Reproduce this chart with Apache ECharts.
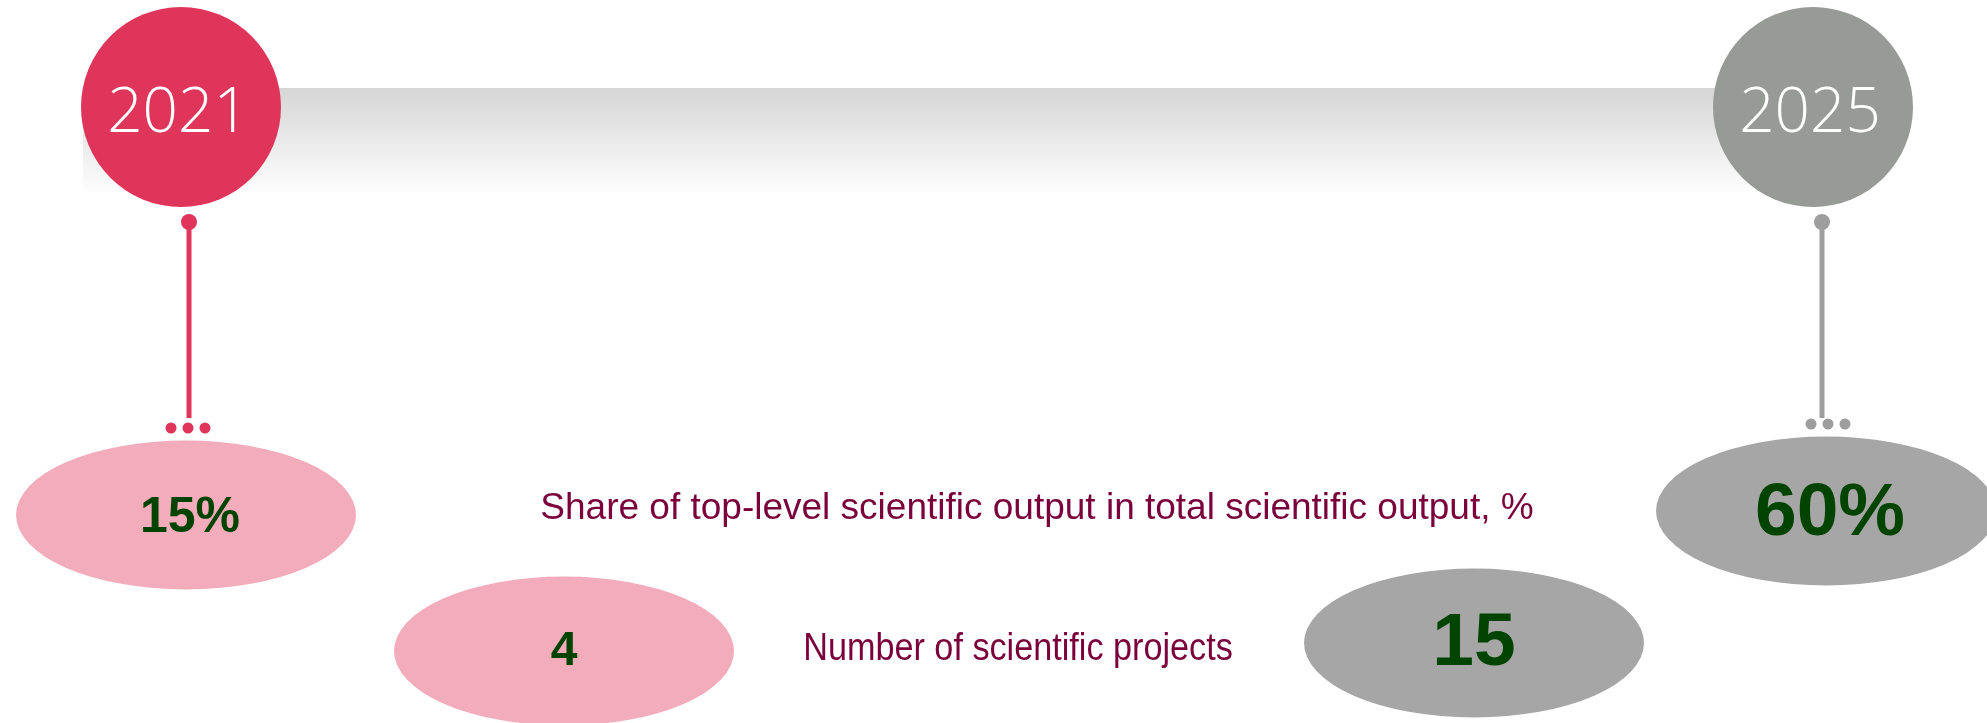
<!DOCTYPE html>
<html>
  <head>
    <meta charset="utf-8" />
    <title>Scientific output 2021 - 2025</title>
    <script src="https://cdn.jsdelivr.net/npm/echarts@6/dist/echarts.min.js"></script>
    <style>
      html, body { margin: 0; padding: 0; background: #fff; }
    </style>
  </head>
  <body>
    <div id="main" style="width: 1987px; height: 723px;"></div>
    <script type="text/javascript">
      // data
      const years = ["2021", "2025"];
      const shareLabel = "Share of top-level scientific output in total scientific output, %";
      const shareValues = [15, 60];
      const projectsLabel = "Number of scientific projects";
      const projectsValues = [4, 15];

      // layout (pixel space of the hidden axes)
      const W = 1987, H = 723;
      const yearPos = [[181, 107], [1813, 107]];
      const pinTop = [[189, 222], [1822, 222]];
      const pinBottom = [418, 418];
      const dotRow = [[188, 428], [1828, 424]];
      const sharePos = [[186, 515], [1826, 511]];
      const projectsPos = [[564, 651], [1474, 643]];
      const shareFont = [50, 75];
      const projectsFont = [48, 75];

      const yearColor = ["#E0355A", "#989A97"];
      const pinColor = ["#E0355A", "#9E9E9E"];
      const bubbleColor = ["#F2ACBB", "#A6A6A6"];
      const valueColor = "#004400";
      const textColor = "#7A003C";

      const myChart = echarts.init(document.getElementById("main"));

      const series = [];

      // connectors
      years.forEach((y, i) => {
        series.push({
          type: "line",
          silent: true,
          symbol: "none",
          lineStyle: { color: pinColor[i], width: 5, opacity: 1 },
          data: [pinTop[i], [pinTop[i][0], pinBottom[i]]],
          z: 3,
        });
      });
      series.push({
        type: "scatter",
        silent: true,
        symbolSize: 16,
        itemStyle: { opacity: 1 },
        data: pinTop.map((p, i) => ({ value: p, itemStyle: { color: pinColor[i] } })),
        z: 4,
      });
      const dots = [];
      dotRow.forEach((p, i) => {
        [-17, 0, 17].forEach(dx => {
          dots.push({ value: [p[0] + dx, p[1]], itemStyle: { color: pinColor[i] } });
        });
      });
      series.push({
        type: "scatter",
        silent: true,
        symbolSize: 11,
        itemStyle: { opacity: 1 },
        data: dots,
        z: 4,
      });

      // year circles
      series.push({
        type: "scatter",
        silent: true,
        symbolSize: 200,
        itemStyle: { opacity: 1 },
        data: years.map((y, i) => ({
          value: yearPos[i],
          name: y,
          itemStyle: { color: yearColor[i] },
        })),
        label: {
          show: true,
          position: "inside",
          formatter: p => p.name,
          color: "#fff",
          fontFamily: "Open Sans",
          fontWeight: 300,
          fontSize: 62,
          offset: [-3, 7],
        },
        z: 5,
      });

      // share bubbles
      series.push({
        type: "scatter",
        silent: true,
        symbol: "circle",
        symbolSize: [340, 149],
        itemStyle: { opacity: 1 },
        data: shareValues.map((v, i) => ({
          value: sharePos[i],
          name: v + "%",
          itemStyle: { color: bubbleColor[i] },
          label: { fontSize: shareFont[i] },
        })),
        label: {
          show: true,
          position: "inside",
          formatter: p => p.name,
          color: valueColor,
          fontFamily: "Liberation Sans, Arial, sans-serif",
          fontWeight: "bold",
          offset: [4, 3],
        },
        z: 5,
      });

      // projects bubbles
      series.push({
        type: "scatter",
        silent: true,
        symbol: "circle",
        symbolSize: [340, 149],
        itemStyle: { opacity: 1 },
        data: projectsValues.map((v, i) => ({
          value: projectsPos[i],
          name: String(v),
          itemStyle: { color: bubbleColor[i] },
          label: { fontSize: projectsFont[i] },
        })),
        label: {
          show: true,
          position: "inside",
          formatter: p => p.name,
          color: valueColor,
          fontFamily: "Liberation Sans, Arial, sans-serif",
          fontWeight: "bold",
          offset: [0, 1],
        },
        z: 5,
      });

      const option = {
        animation: false,
        grid: { left: 0, right: 0, top: 0, bottom: 0 },
        xAxis: { type: "value", min: 0, max: W, show: false },
        yAxis: { type: "value", min: 0, max: H, inverse: true, show: false },
        graphic: [
          {
            type: "rect",
            silent: true,
            z: 0,
            shape: { x: 83, y: 88, width: 1730, height: 108 },
            style: {
              fill: new echarts.graphic.LinearGradient(0, 0, 0, 1, [
                { offset: 0, color: "#d6d6d6" },
                { offset: 1, color: "#ffffff" },
              ]),
            },
          },
          {
            type: "text",
            silent: true,
            x: 1037,
            y: 509,
            style: {
              text: shareLabel,
              fill: textColor,
              font: "37px 'Liberation Sans', Arial, sans-serif",
              align: "center",
              verticalAlign: "middle",
            },
          },
          {
            // condensed look of the original label
            type: "text",
            silent: true,
            x: 1018,
            y: 650,
            scaleX: 0.9,
            style: {
              text: projectsLabel,
              fill: textColor,
              font: "38px 'Liberation Sans', Arial, sans-serif",
              align: "center",
              verticalAlign: "middle",
            },
          },
        ],
        series: series,
      };
      myChart.setOption(option);
    </script>
  </body>
</html>
